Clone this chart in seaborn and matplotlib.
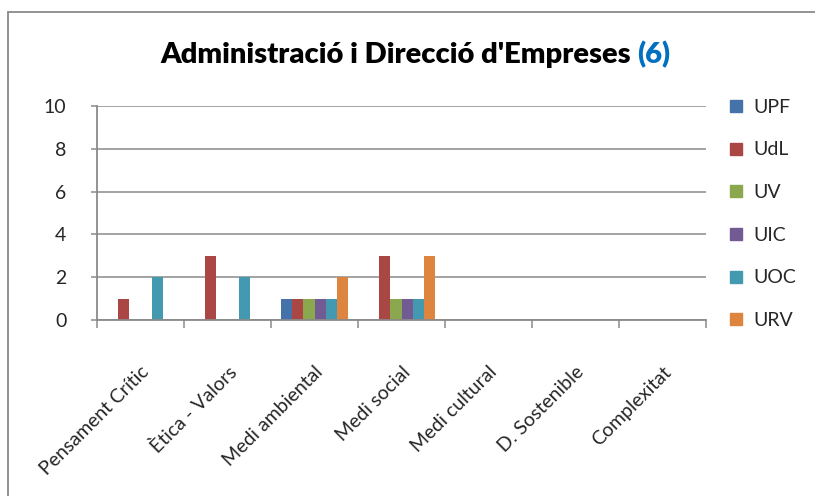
import numpy as np
import pandas as pd
import seaborn as sns
import matplotlib.pyplot as plt
from matplotlib.lines import Line2D

categories = ["Pensament Crític", "Ètica - Valors", "Medi ambiental", "Medi social",
              "Medi cultural", "D. Sostenible", "Complexitat"]
series = ["UPF", "UdL", "UV", "UIC", "UOC", "URV"]
upf = [0, 0, 1, 0, 0, 0, 0]
udl = [1, 3, 1, 3, 0, 0, 0]
uv = [0, 0, 1, 1, 0, 0, 0]
uic = [0, 0, 1, 1, 0, 0, 0]
uoc = [2, 2, 1, 1, 0, 0, 0]
urv = [0, 0, 2, 3, 0, 0, 0]
yticks = [0, 2, 4, 6, 8, 10]

colors = ["#4672AA", "#AA4644", "#8BA84F", "#725A93", "#4399B0", "#DD843F"]

sns.set_theme(style="white")
plt.rcParams["font.family"] = ["Lato", "DejaVu Sans"]

df = pd.DataFrame({"UPF": upf, "UdL": udl, "UV": uv, "UIC": uic, "UOC": uoc, "URV": urv},
                  index=categories)
long = df.reset_index(names="cat").melt(id_vars="cat", var_name="uni", value_name="val")

fig = plt.figure(figsize=(8.15, 4.96), dpi=100)
ax = fig.add_axes([97 / 815, 176 / 496, 609 / 815, 214 / 496])

sns.barplot(data=long, x="cat", y="val", hue="uni", hue_order=series, order=categories,
            palette=colors, width=0.78, saturation=1, linewidth=0, ax=ax, legend=False)

ax.set_ylim(0, 10)
ax.set_xlim(-0.5, len(categories) - 0.5)
ax.set_yticks(yticks)
ax.set_yticklabels([str(v) for v in yticks], fontsize=14)
ax.yaxis.grid(True, color="#8a8a8a", linewidth=1.1)
ax.set_axisbelow(True)
ax.set_xlabel("")
ax.set_ylabel("")

for s in ["top", "right"]:
    ax.spines[s].set_visible(False)
for s in ["left", "bottom"]:
    ax.spines[s].set_color("#8a8a8a")
    ax.spines[s].set_linewidth(1.3)

ax.tick_params(axis="y", left=True, length=4, width=1.1, color="#8a8a8a", pad=18)
ax.set_xticks(np.arange(len(categories)))
ax.set_xticklabels(categories, rotation=45, ha="right", rotation_mode="anchor", fontsize=14)
ax.tick_params(axis="x", which="major", bottom=False, pad=25)
ax.set_xticks(np.arange(-0.5, len(categories)), minor=True)
ax.tick_params(axis="x", which="minor", bottom=True, length=6, width=1.1, color="#8a8a8a")

handles = [Line2D([], [], marker="s", linestyle="", markersize=9, color=c) for c in colors]
ax.legend(handles, series, loc="upper left", bbox_to_anchor=(720 / 815, 1 - 91 / 496),
          bbox_transform=fig.transFigure, frameon=False, fontsize=14,
          handlelength=0.8, handletextpad=0.5, labelspacing=1.32, borderaxespad=0)

t1 = fig.text(160 / 815, 1 - 63 / 496, "Administració i Direcció d'Empreses ",
              fontsize=21, fontweight="heavy", color="black", ha="left", va="baseline")
ax.annotate("(6)", xy=(1, 0), xycoords=t1, va="bottom", ha="left",
            fontsize=21, fontweight="heavy", color="#0070C0")

fig.add_artist(Line2D([8 / 815, 1], [1 - 11.5 / 496] * 2, transform=fig.transFigure,
                      color="#8a8a8a", linewidth=1.3))
fig.add_artist(Line2D([8 / 815] * 2, [0, 1 - 11.5 / 496], transform=fig.transFigure,
                      color="#8a8a8a", linewidth=1.3))

fig.savefig("out.png", dpi=100)
